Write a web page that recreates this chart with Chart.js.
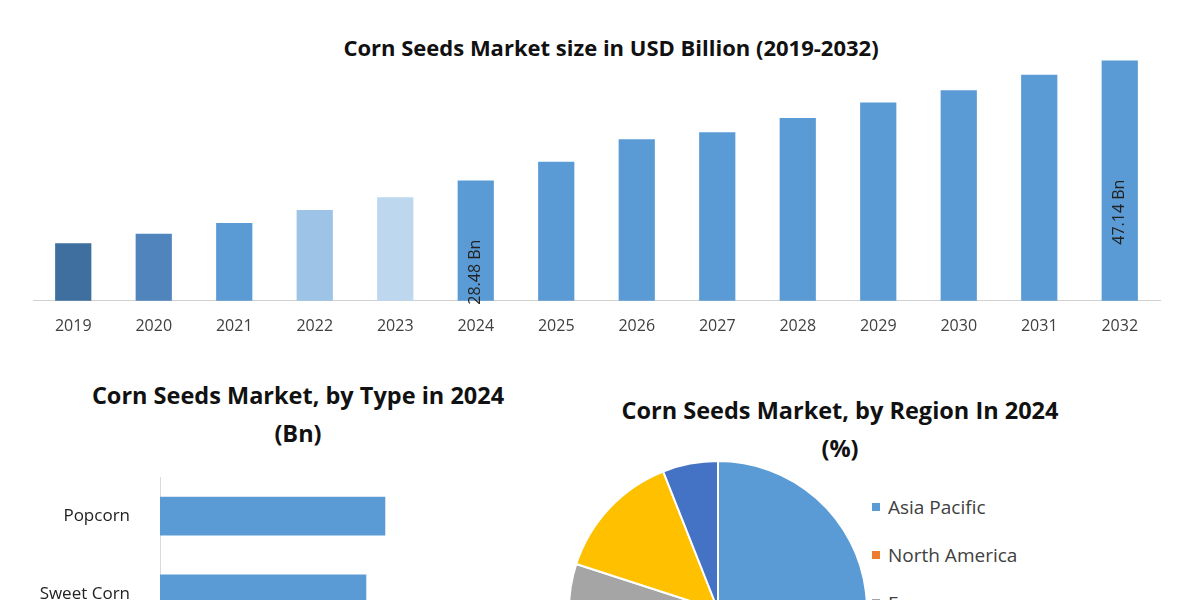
<!DOCTYPE html>
<html>
<head>
<meta charset="utf-8">
<script src="https://cdn.jsdelivr.net/npm/chart.js@4"></script>
<style>
    body { margin: 0; width: 1200px; height: 600px; overflow: hidden; background: #fff; position: relative; font-family: "Open Sans", sans-serif; }
    .box { position: absolute; }
    .ttl { position: absolute; font-weight: bold; color: #111; text-align: center; line-height: 38px; }
    #legendRegion { position: absolute; left: 872px; top: 494px; font-size: 19px; color: #404040; }
    #legendRegion div { height: 48px; display: flex; align-items: flex-start; }
    #legendRegion span.sw { width: 8px; height: 8px; margin: 9px 8px 0 0; display: inline-block; }
</style>
</head>
<body>

<div class="ttl" style="left:0; width:1222px; top:28px; font-size:22px;">Corn Seeds Market size in USD Billion (2019-2032)</div>
<div class="ttl" style="left:40px; width:516px; top:376px; font-size:23.5px;">Corn Seeds Market, by Type in 2024<br>(Bn)</div>
<div class="ttl" style="left:580px; width:520px; top:391px; font-size:23.5px;">Corn Seeds Market, by Region In 2024<br>(%)</div>

<div class="box" style="left:0; top:34px; width:1200px; height:310px;"><canvas id="graficoAnual"></canvas></div>
<canvas id="graficoTipo" class="box" style="left:0; top:445px;" width="540" height="220"></canvas>
<div class="box" style="left:568px; top:460px; width:300px; height:300px;"><canvas id="graficoRegiao"></canvas></div>
<div id="legendRegion"></div>

<script>
const anos = ["2019", "2020", "2021", "2022", "2023", "2024", "2025", "2026", "2027", "2028", "2029", "2030", "2031", "2032"];
const mercado = [18.75, 20.2, 21.9, 23.9, 25.9, 28.48, 31.4, 34.9, 36.0, 38.2, 40.6, 42.5, 44.9, 47.14];
const rotulosMercado = ["", "", "", "", "", "28.48 Bn", "", "", "", "", "", "", "", "47.14 Bn"];
const coresAnos = ["#3e6f9e", "#4f84bd", "#5b9bd5", "#9dc3e6", "#bdd7ee", "#5b9bd5", "#5b9bd5", "#5b9bd5", "#5b9bd5", "#5b9bd5", "#5b9bd5", "#5b9bd5", "#5b9bd5", "#5b9bd5"];

const tipos = ["Popcorn", "Sweet Corn"];
const valoresTipo = [2.96, 2.71];

const regioes = ["Asia Pacific", "North America", "Europe", "Latin America", "Middle East and Africa"];
const valoresRegiao = [46, 20, 14, 14, 6];
const coresRegiao = ["#5b9bd5", "#ed7d31", "#a5a5a5", "#ffc000", "#4472c4"];

const fonte = "'Open Sans', sans-serif";

const rotuloBarras = {
    id: "rotuloBarras",
    afterDatasetsDraw(chart) {
        const ctx = chart.ctx;
        chart.getDatasetMeta(0).data.forEach((bar, i) => {
            const txt = rotulosMercado[i];
            if (!txt) return;
            ctx.save();
            ctx.translate(bar.x, (bar.y + bar.base) / 2);
            ctx.rotate(-Math.PI / 2);
            ctx.fillStyle = "#222";
            ctx.font = "16px " + fonte;
            ctx.textAlign = "center";
            ctx.textBaseline = "middle";
            ctx.fillText(txt, 0, 0);
            ctx.restore();
        });
    }
};

new Chart(document.getElementById("graficoAnual"), {
    type: "bar",
    data: {
        labels: anos,
        datasets: [{ data: mercado, backgroundColor: coresAnos, borderWidth: 0, barPercentage: 0.45, categoryPercentage: 1 }]
    },
    options: {
        responsive: true,
        maintainAspectRatio: false,
        animation: false,
        layout: { padding: { left: 33, right: 40, top: 8 } },
        plugins: { legend: { display: false }, tooltip: { enabled: false } },
        scales: {
            x: {
                grid: { display: false },
                border: { color: "#d0d0d0" },
                ticks: { color: "#404040", font: { size: 16, family: fonte }, padding: 8 }
            },
            y: { display: false, min: 9.8, max: 50 }
        }
    },
    plugins: [rotuloBarras]
});

new Chart(document.getElementById("graficoTipo"), {
    type: "bar",
    data: {
        labels: tipos,
        datasets: [{ data: valoresTipo, backgroundColor: "#5b9bd5", borderWidth: 0, barThickness: 38 }]
    },
    options: {
        indexAxis: "y",
        responsive: false,
        animation: false,
        layout: { padding: 0 },
        plugins: { legend: { display: false }, tooltip: { enabled: false } },
        scales: {
            x: { display: false, min: 0, max: 5 },
            y: {
                afterFit: s => { s.width = 160; },
                grid: { display: false },
                border: { color: "#d9d9d9" },
                ticks: { color: "#222", font: { size: 17, family: fonte }, padding: 22 }
            }
        }
    }
});

new Chart(document.getElementById("graficoRegiao"), {
    type: "pie",
    data: {
        labels: regioes,
        datasets: [{ data: valoresRegiao, backgroundColor: coresRegiao, borderColor: "#fff", borderWidth: 2 }]
    },
    options: {
        responsive: true,
        maintainAspectRatio: false,
        animation: false,
        layout: { padding: 0 },
        plugins: { legend: { display: false }, tooltip: { enabled: false } }
    }
});

const legenda = document.getElementById("legendRegion");
regioes.forEach((r, i) => {
    const item = document.createElement("div");
    item.innerHTML = `<span class="sw" style="background:${coresRegiao[i]}"></span>${r}`;
    legenda.appendChild(item);
});
</script>
</body>
</html>
